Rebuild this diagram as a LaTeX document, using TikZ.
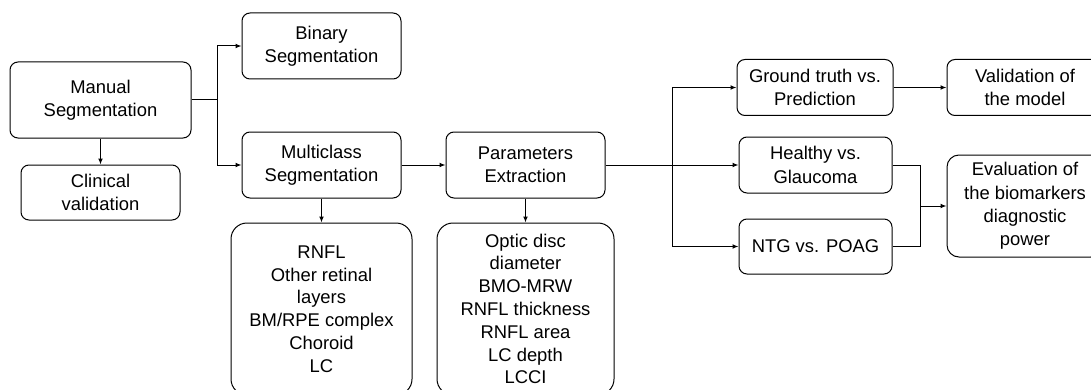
\documentclass[tikz,border=0pt]{standalone}
\usepackage{fontspec}
\setmainfont{Liberation Sans}
\usetikzlibrary{arrows.meta}
\begin{document}
\begin{tikzpicture}[x=0.5pt,y=-0.5pt,
  box/.style={draw,rounded corners=4pt,line width=0.5pt,align=center,inner sep=0pt,
    font=\fontsize{9.2}{11.6}\selectfont},
  listbox/.style={box,rounded corners=8pt,font=\fontsize{9.2}{11.4}\selectfont},
  conn/.style={line width=0.5pt},
  arr/.style={conn,-{Latex[length=3pt,width=2.4pt]}}]
\useasboundingbox (0,0) rectangle (1091,390);

\node[box,minimum width=90.5pt,minimum height=38pt] (manual) at (100.5,100) {Manual\\Segmentation};
\node[box,minimum width=79.5pt,minimum height=27.5pt] (clinical) at (100.5,192.5) {Clinical\\validation};
\node[box,minimum width=79.5pt,minimum height=33pt] (binary) at (321.5,46) {Binary\\Segmentation};
\node[box,minimum width=79.5pt,minimum height=33pt] (multi) at (321.5,165) {Multiclass\\Segmentation};
\node[box,minimum width=79.5pt,minimum height=33pt] (param) at (525.5,165) {Parameters\\Extraction};
\node[listbox,minimum width=90.5pt,minimum height=86pt] (layers) at (321.5,309)
  {RNFL\\Other retinal\\layers\\BM/RPE complex\\Choroid\\LC};
\node[listbox,minimum width=88.5pt,minimum height=86pt] (paramlist) at (525.5,309)
  {Optic disc\\diameter\\BMO-MRW\\RNFL thickness\\RNFL area\\LC depth\\LCCI};
\node[box,minimum width=78pt,minimum height=28pt] (ground) at (815,87.5) {Ground truth vs.\\Prediction};
\node[box,minimum width=78pt,minimum height=28pt] (valid) at (1025,87.5) {Validation of\\the model};
\node[box,minimum width=76.5pt,minimum height=28pt] (healthy) at (815.5,165) {Healthy vs.\\Glaucoma};
\node[box,minimum width=76.5pt,minimum height=27.5pt] (ntg) at (815.5,246.5) {NTG vs. POAG};
\node[box,rounded corners=6pt,minimum width=78pt,minimum height=51pt] (eval) at (1025,206)
  {Evaluation of\\the biomarkers\\diagnostic\\power};

\coordinate (jleft) at (217,100);
\coordinate (jright) at (672,165);
\coordinate (jeval) at (920,206);

\draw[conn] (manual.east) -- (jleft);
\draw[arr] (jleft) |- (binary.west);
\draw[arr] (jleft) |- (multi.west);
\draw[arr] (manual.south) -- (clinical.north);
\draw[arr] (multi.east) -- (param.west);
\draw[arr] (multi.south) -- (layers.north);
\draw[arr] (param.south) -- (paramlist.north);

\draw[conn] (param.east) -- (jright);
\draw[arr] (jright) |- (ground.west);
\draw[arr] (jright) -- (healthy.west);
\draw[arr] (jright) |- (ntg.west);
\draw[arr] (ground.east) -- (valid.west);
\draw[conn] (healthy.east) -| (jeval);
\draw[conn] (ntg.east) -| (jeval);
\draw[arr] (jeval) -- (eval.west);
\end{tikzpicture}
\end{document}
